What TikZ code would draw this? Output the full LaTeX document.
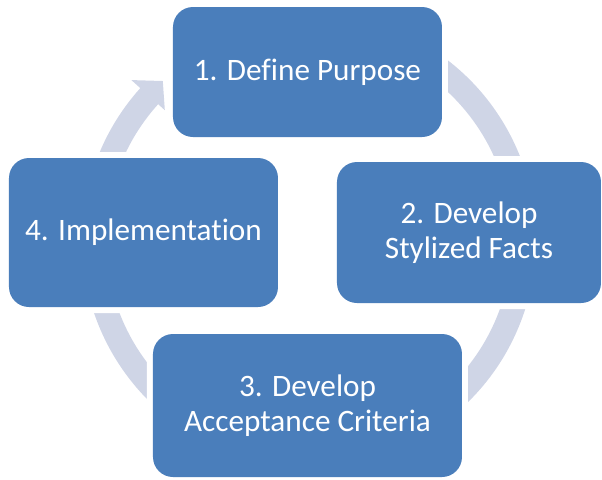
\documentclass[tikz,border=0pt]{standalone}
\usepackage{fontspec}
\setmainfont{Carlito}[Ligatures=NoCommon]
\usepackage{tikz}
\definecolor{boxblue}{RGB}{74,126,187}
\definecolor{ringcol}{RGB}{207,213,230}
\tikzstyle{stage}=[rectangle,rounded corners=10pt,fill=boxblue,text=white,align=center,font=\fontsize{15.6pt}{17.6pt}\selectfont,inner sep=0pt,preaction={draw=white,line width=6pt}]

\begin{document}
\begin{tikzpicture}[x=0.5pt,y=0.5pt]
\useasboundingbox (0,0) rectangle (602,479);
\coordinate (cyc) at (309,239);
\begin{scope}[shift={(cyc)}]
\fill[ringcol] (70:227) arc[start angle=70, end angle=-222, radius=227] -- (138:239) -- (132.6:216) -- (138:194) -- (138:203) arc[start angle=-222, end angle=70, radius=203] -- cycle;
\end{scope}
\node[stage, minimum width=134.5pt, minimum height=65pt] (purpose) at (307.5,407) {1. Define Purpose};
\node[stage, minimum width=132pt, minimum height=70.5pt] (facts) at (469,246.5) {2. Develop\\Stylized Facts};
\node[stage, minimum width=154.5pt, minimum height=71.5pt] (criteria) at (307.5,73.5) {3. Develop\\Acceptance Criteria};
\node[stage, minimum width=134.5pt, minimum height=74.5pt] (impl) at (143.5,246.5) {4. Implementation};
\end{tikzpicture}
\end{document}
